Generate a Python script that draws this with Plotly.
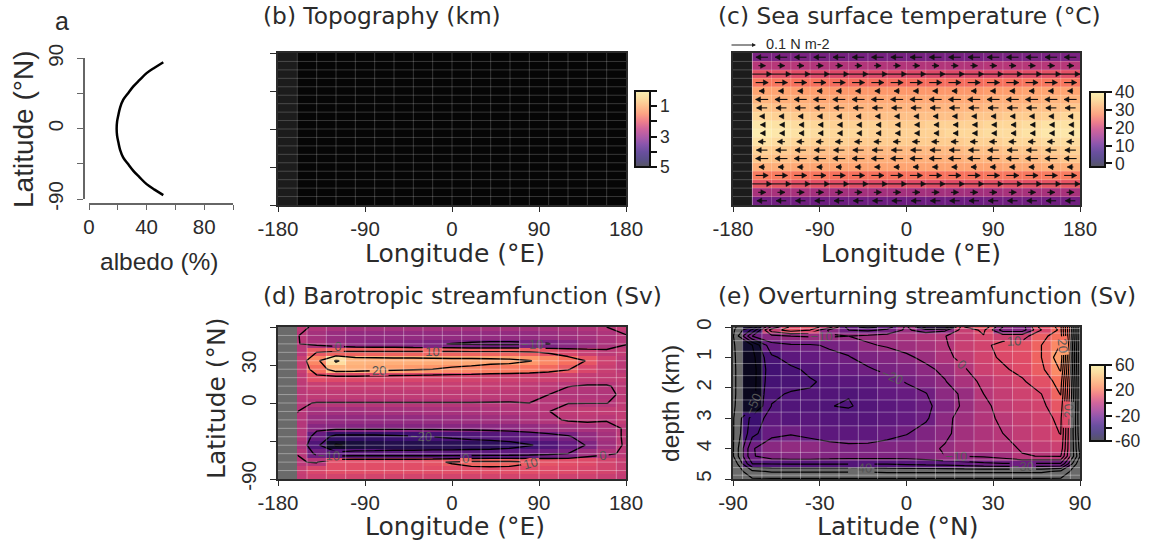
import plotly.graph_objects as go

# ---------- data ----------
albedo_lat = [85, 78, 71, 62, 54, 45, 37, 27, 17.5, 9, 0, -9, -17.5, -27, -37, -45, -54, -62, -71, -78, -85]
albedo_pct = [51.6, 45.5, 40, 35, 30.8, 27, 23.8, 21.6, 20.4, 19.5, 19.2, 19.5, 20.4, 21.6, 23.8, 27, 30.8, 35, 40, 45.5, 51.6]

cell_lon = [-170, -150, -130, -110, -90, -70, -50, -30, -10, 10, 30, 50, 70, 90, 110, 130, 150, 170]
cell_lat = [85, 75, 65, 55, 45, 35, 25, 15, 5, -5, -15, -25, -35, -45, -55, -65, -75, -85]

topo_depth = [[0, 5, 5, 5, 5, 5, 5, 5, 5, 5, 5, 5, 5, 5, 5, 5, 5, 5] for _ in cell_lat]

sst_lon = [-150, -130, -110, -90, -70, -50, -30, -10, 10, 30, 50, 70, 90, 110, 130, 150, 170]
sst = [
    [13, 13, 13, 12.5, 12.5, 12.5, 12.5, 12.5, 12.5, 12.5, 12.5, 12.5, 13, 13, 13, 13, 13],
    [19, 19, 19, 18.5, 18.5, 18.5, 18.5, 18.5, 18.5, 18.5, 18.5, 18.5, 19, 19, 19, 19, 19],
    [24, 24, 23.5, 23, 23, 23, 23, 23, 23, 23, 23, 23, 23, 23.5, 23.5, 24, 24],
    [28, 28, 27.5, 27.5, 27, 27, 27, 27, 27, 27, 27, 27, 27.5, 27.5, 28, 28, 28],
    [32, 32, 31.5, 31.5, 31, 31, 31, 31, 31, 31, 31, 31, 31.5, 31.5, 32, 32, 32],
    [33.5, 33, 33, 32.5, 32.5, 32.5, 32.5, 32.5, 32.5, 32.5, 32.5, 32.5, 33, 33, 33, 33.5, 33.5],
    [35, 34.5, 34, 33.5, 33.5, 33.5, 33.5, 33.5, 33.5, 33.5, 33.5, 33.5, 34, 34, 34.5, 34.5, 35],
    [36.5, 36, 35.5, 35, 35, 34.5, 34.5, 34.5, 34.5, 34.5, 34.5, 35, 35, 35.5, 35.5, 36, 36.5],
    [38, 37.5, 37, 36.5, 36, 36, 36, 35.5, 35.5, 36, 36, 36, 36.5, 36.5, 37, 37.5, 37.5],
    [38.5, 38, 37.5, 37, 36.5, 36.5, 36, 36, 36, 36, 36.5, 36.5, 37, 37, 37.5, 38, 38],
    [37.5, 37, 36.5, 36, 36, 35.5, 35.5, 35.5, 35.5, 35.5, 35.5, 36, 36, 36.5, 36.5, 37, 37],
    [36, 35.5, 35, 34.5, 34.5, 34, 34, 34, 34, 34, 34, 34.5, 34.5, 35, 35, 35.5, 36],
    [35, 34.5, 34, 33.5, 33.5, 33, 33, 33, 33, 33, 33, 33.5, 33.5, 34, 34, 34.5, 35],
    [33, 33, 32.5, 32, 32, 32, 32, 32, 32, 32, 32, 32, 32, 32.5, 32.5, 33, 33],
    [28.5, 28.5, 28, 28, 27.5, 27.5, 27.5, 27.5, 27.5, 27.5, 27.5, 27.5, 28, 28, 28, 28.5, 28.5],
    [24.5, 24.5, 24, 24, 24, 23.5, 23.5, 23.5, 23.5, 23.5, 23.5, 24, 24, 24, 24, 24.5, 24.5],
    [17.5, 17.5, 17.5, 17, 17, 17, 17, 17, 17, 17, 17, 17, 17, 17.5, 17.5, 17.5, 17.5],
    [12, 12, 12, 11.5, 11.5, 11.5, 11.5, 11.5, 11.5, 11.5, 11.5, 11.5, 12, 12, 12, 12, 12],
]
taux_lat = cell_lat
taux = [-0.048, 0.028, 0.077, 0.05, -0.022, -0.05, -0.042, -0.018, -0.012,
        -0.012, -0.03, -0.044, -0.05, -0.024, 0.05, 0.077, 0.03, -0.04]

baro_lon = [-160, -140, -120, -100, -80, -60, -40, -20, 0, 20, 40, 60, 80, 100, 120, 140, 160, 180]
baro_lat = [90, 80, 70, 60, 50, 40, 30, 20, 10, 0, -10, -20, -30, -40, -50, -60, -70, -80, -90]
baro = [
    [1.5, -1, -2, -3, -3, -3, -3, -3, -3, -3, -3, -3, -3, -2.5, -2, -1, 0, 2],
    [0.3, -3, -5, -6, -6, -6, -6, -6, -6, -6, -6, -6, -6, -5, -4, -3, -1.5, -0.2],
    [0.3, -2, -5, -7, -8, -8, -9, -9.5, -10.2, -11, -11.5, -11.5, -11, -10.2, -8, -5, -2, -0.2],
    [0.5, 10, 12, 12, 12, 12, 12, 12, 12, 12, 12, 12, 11, 9, 6, 3, 1, 2],
    [3, 18, 31, 25, 24.5, 24, 24, 23.5, 23, 23, 22.5, 22, 20.3, 18, 14, 9.5, 4, 1],
    [3, 14, 25, 24, 23, 22, 21, 20, 19, 18, 16.5, 16, 15, 13, 10.5, 6, 3, 1],
    [1.5, 8, 7, 7, 6.5, 6, 6, 5.5, 5, 5, 4.5, 4, 4, 4, 3.5, 2, 2, 2],
    [1, 3, 3, 3, 3, 3, 3, 3, 3, 3, 2.5, 2, 1.5, 1, 0.1, -0.3, -0.3, 1],
    [0.6, 1.5, 1.5, 1.5, 1.5, 1.5, 1.5, 1.5, 1.5, 1.5, 1, 0.8, 0.3, 0, -1, -1, -1, 1],
    [0.3, -0.1, -0.1, -0.1, -0.1, -0.1, -0.1, -0.1, -0.1, -0.1, -0.1, -0.1, 0, -0.1, -0.1, -0.1, -0.1, 1.5],
    [0.1, -3, -3.5, -3.5, -3, -3, -3, -2.5, -2.5, -2, -1.5, -1, -0.5, -0.1, 1.5, 2, 2, 2],
    [-0.5, -5, -6, -6, -6, -6, -6, -5.5, -5, -4.5, -4, -3.5, -2, -1, 0.5, 1, 0.3, 2],
    [-0.5, -8, -8.5, -8.5, -8.5, -8.5, -8.5, -8.5, -8, -8, -7.5, -7, -6, -5, -3.5, -2.5, -1.5, 0.5],
    [-0.5, -14, -23, -23, -23, -22, -21, -20, -19, -18, -17, -16, -15, -13, -11, -6, -3, 1],
    [-2, -18, -31, -28, -27, -26, -26, -25, -25, -24, -24, -23, -20.5, -18, -14, -9.5, -4, 1],
    [-0.1, -12, -17, -16, -16, -16, -16, -16, -16, -16, -15.5, -15, -14, -12, -10, -4, -1, 1],
    [0.5, -0.5, 8, 8, 8, 8, 8, 9, 10.5, 12, 12.5, 12, 10.5, 9, 8, 7, 5, 3],
    [3, 6, 8, 8, 8, 8, 8, 8, 8, 8, 8, 8, 8, 7.5, 7, 6, 5, 3],
    [2, 4, 5, 5, 5, 5, 5, 5, 5, 5, 5, 5, 5, 5, 4, 4, 3, 2],
]

moc_lat = [-90, -80, -70, -60, -50, -40, -30, -20, -10, 0, 10, 20, 30, 40, 50, 60, 70, 80, 90]
moc_depth = [0, 0.1, 0.3, 0.6, 1.0, 1.4, 1.8, 2.2, 2.6, 3.0, 3.5, 4.0, 4.25, 4.5, 4.75, 5]
moc = [
    [-62, -50, -8, 12, 15, 5, -25, -35, -25, -8, -35, -40, 10, 18, -10, -15, 15, 22, -69],
    [-62, -38, 5, 15, 10, -12, -20, -22, -18, -8, -16, -12, 5, 12, -15, -15, 10, 22, -69],
    [-61, -20, -13, -10, -9, -9, -10, -8, -6, -4, -2, -0.2, 4, 9.5, 6, 6, 18, 24, -69],
    [-61, -50, -23, -21, -21, -19, -17, -11, -9, -7, -4.5, -1, 5, 8, 13, 14, 20, 30.5, -69],
    [-61, -53, -32, -26, -24, -22, -20.5, -17, -15, -11.5, -8, -2.5, 3, 8, 11, 13, 20, 36, -69],
    [-61, -54, -34, -32, -28, -25, -23, -21, -18, -16, -12, -8, -1, 6, 9, 12, 18, 31, -69],
    [-61, -54, -33, -32, -31, -28, -27, -26, -23, -19.5, -15, -10.5, -4, 2, 6, 9, 14, 24, -69],
    [-61, -54, -31, -29.5, -29, -29, -29.8, -28, -25, -23, -20.5, -12, -9, 0, 4, 7, 10, 20.5, -69],
    [-61, -52, -29.8, -29.5, -29.7, -29.9, -30.3, -29, -27, -25, -22, -16, -8, -2, 3, 5.5, 8, 16, -69],
    [-61, -36, -26, -28, -27, -28, -28.5, -28, -26, -24, -21.5, -12, -7, -1.5, 1, 4, 7, 12, -69],
    [-61, -33, -23, -21, -24, -26, -26, -25.5, -23, -20.5, -16, -12, -6, -2.5, 0, 3, 6, 10.3, -68],
    [-61, -21, -13, -10.5, -11.5, -15, -17, -17, -16, -15, -12.5, -9, -5, -2, -1, 0.3, 3, 6, -64],
    [-61, -21, -15, -14, -14, -15, -16, -16, -16, -16, -14, -10, -9.8, -9, -6, -0.2, 0.1, 0.5, -60],
    [-69, -30, -29.5, -29, -29, -29, -29, -29, -29, -28, -27, -26, -24, -22, -21, -21, -21, -21, -69],
    [-69, -52, -49, -49, -49, -49, -49, -49, -48, -48, -48, -48, -48, -48, -48, -48, -48, -52, -69],
    [-69, -61, -61, -61, -61, -61, -61, -61, -61, -61, -61, -61, -61, -61, -61, -61, -61, -61, -69],
]

lon_ticks = [-180, -90, 0, 90, 180]
lon_text = ["-180", "-90", "0", "90", "180"]
lat_ticks = [-90, -45, 0, 45, 90]
baro_lat_text = ["-90", "", "0", "30", ""]
albedo_lat_text = ["-90", "", "0", "", "90"]
moc_x_text = ["-90", "-30", "0", "30", "90"]
albedo_ticks = [0, 20, 40, 60, 80, 100]
albedo_text = ["0", "", "40", "", "80", ""]
depth_ticks = [0, 1, 2, 3, 4, 5]
depth_text = ["0", "1", "2", "3", "4", "5"]

# ---------- style ----------
W, H = 1155, 546
MONO = "Liberation Sans"
DEJA = "DejaVu Sans"
INK = "#2b2b2b"
MAGMA = [[0, "#000004"], [0.1, "#140e36"], [0.2, "#3b0f70"], [0.3, "#641a80"], [0.4, "#8c2981"],
         [0.5, "#b73779"], [0.6, "#de4968"], [0.7, "#f7705c"], [0.8, "#fe9f6d"], [0.9, "#fecf92"],
         [1, "#fcfdbf"]]
BAR = [[0, "#565660"], [0.1, "#5a4f8a"], [0.2, "#6a4f9f"], [0.3, "#8a55ad"], [0.4, "#b05ca8"],
       [0.5, "#d0659c"], [0.6, "#ee7f8c"], [0.7, "#fca384"], [0.8, "#fdc08f"], [0.9, "#fbdca0"],
       [1, "#f9f0b4"]]


def fx(p):
    return p / W


def fy(p):
    return 1 - p / H


def xax(left, right, **kw):
    base = dict(domain=[fx(left), fx(right)], showgrid=False, zeroline=False, ticks="outside",
                ticklen=5, tickwidth=1, tickcolor=INK, linecolor=INK, linewidth=1.5, showline=True,
                tickfont=dict(family=MONO, size=20.5, color=INK))
    base.update(kw)
    return base


def yax(top, bottom, **kw):
    base = dict(domain=[fy(bottom), fy(top)], showgrid=False, zeroline=False, ticks="outside",
                ticklen=6, tickwidth=1, tickcolor=INK, linecolor=INK, linewidth=1.5, showline=True,
                tickangle=-90, ticklabelstandoff=6, tickfont=dict(family=MONO, size=20.5, color=INK))
    base.update(kw)
    return base


def grid_trace(xs, ys, x_span, y_span, alpha, ax):
    gx, gy = [], []
    for v in xs:
        gx += [v, v, None]
        gy += [y_span[0], y_span[1], None]
    for v in ys:
        gx += [x_span[0], x_span[1], None]
        gy += [v, v, None]
    return go.Scatter(x=gx, y=gy, mode="lines", line=dict(color=f"rgba(255,255,255,{alpha})", width=1),
                      hoverinfo="skip", showlegend=False, xaxis="x" + ax, yaxis="y" + ax)


def bar_trace(ax, x, y, lo, hi, top, left, height, vals, text):
    return go.Scatter(
        x=[x], y=[y], mode="markers", hoverinfo="skip", showlegend=False, xaxis="x" + ax, yaxis="y" + ax,
        marker=dict(size=1, opacity=0, color=[lo], cmin=lo, cmax=hi, colorscale=BAR, showscale=True,
                    colorbar=dict(x=fx(left), xanchor="left", y=fy(top), yanchor="top", thickness=15,
                                  lenmode="pixels", len=height, ypad=0, xpad=0, outlinewidth=2,
                                  outlinecolor="#111", ticks="outside", ticklen=6, tickwidth=1.5,
                                  tickcolor="#111", tickvals=vals, ticktext=text,
                                  tickfont=dict(family=MONO, size=17.5, color=INK))))


fig = go.Figure()

# (a) albedo
fig.add_trace(go.Scatter(x=albedo_pct, y=albedo_lat, mode="lines", line=dict(color="black", width=2.5, shape="spline"),
                         showlegend=False, xaxis="x", yaxis="y"))

# (b) topography
fig.add_trace(go.Heatmap(x=cell_lon, y=cell_lat, z=topo_depth, zmin=0, zmax=5, showscale=False,
                         colorscale=[[0, "#1c1c1c"], [0.5, "#1c1c1c"], [0.5, "#060606"], [1, "#060606"]],
                         xaxis="x2", yaxis="y2"))
fig.add_trace(grid_trace(list(range(-160, 180, 20)), list(range(-80, 90, 10)), [-180, 180], [-90, 90], 0.2, "2"))
fig.add_trace(bar_trace("2", -180, -90, -5, 0, 91, 635, 76, [0, -1, -2, -3, -4, -5], ["", "1", "", "3", "", "5"]))

# (c) SST + wind stress
fig.add_trace(go.Heatmap(x=sst_lon, y=cell_lat, z=sst, zmin=-2, zmax=40, colorscale=MAGMA, showscale=False,
                         xaxis="x3", yaxis="y3"))
fig.add_trace(go.Heatmap(x=[-180, -160], y=[-90, 90], z=[[1]], colorscale=[[0, "#1c1c1c"], [1, "#1c1c1c"]],
                         showscale=False, xaxis="x3", yaxis="y3"))
fig.add_trace(grid_trace(list(range(-160, 180, 20)), list(range(-80, 90, 10)), [-180, 180], [-90, 90], 0.22, "3"))
KEY_LON = 26.0    # degrees of longitude drawn for 0.1 N m-2
HEAD_LON = 5.0    # arrow-head size, degrees of longitude
HEAD_LAT = 3.2    # arrow-head half width, degrees of latitude
shaft_x, shaft_y, head_x, head_y = [], [], [], []
for la, u in zip(taux_lat, taux):
    half = u / 0.1 * KEY_LON / 2
    back = HEAD_LON if u > 0 else -HEAD_LON
    for lo in sst_lon:
        tip = lo + half
        shaft_x += [lo - half, tip, None]
        shaft_y += [la, la, None]
        head_x += [tip - back, tip, tip - back, tip - back, None]
        head_y += [la + HEAD_LAT, la, la - HEAD_LAT, la + HEAD_LAT, None]
fig.add_trace(go.Scatter(x=shaft_x, y=shaft_y, mode="lines", line=dict(color="#111", width=1.1),
                         hoverinfo="skip", showlegend=False, xaxis="x3", yaxis="y3"))
fig.add_trace(go.Scatter(x=head_x, y=head_y, mode="lines", line=dict(color="#111", width=0.5),
                         fill="toself", fillcolor="#111",
                         hoverinfo="skip", showlegend=False, xaxis="x3", yaxis="y3"))
fig.add_trace(bar_trace("3", -180, -90, -2, 40, 92, 1090, 75, [0, 10, 20, 30, 40], ["0", "10", "20", "30", "40"]))

# (d) barotropic streamfunction
fig.add_trace(go.Heatmap(x=baro_lon, y=baro_lat, z=baro, zmin=-36, zmax=36, colorscale=MAGMA, showscale=False,
                         xaxis="x4", yaxis="y4"))
fig.add_trace(go.Heatmap(x=[-180, -160], y=[-90, 90], z=[[1]], colorscale=[[0, "#6a6a6a"], [1, "#6a6a6a"]],
                         showscale=False, xaxis="x4", yaxis="y4"))
fig.add_trace(grid_trace(list(range(-150, 180, 20)), list(range(-80, 90, 10)), [-180, 180], [-90, 90], 0.35, "4"))
fig.add_trace(go.Contour(x=baro_lon, y=baro_lat, z=baro, autocontour=False, showscale=False,
                         contours=dict(coloring="none", start=-30, end=30, size=10, showlabels=True,
                                       labelfont=dict(family=MONO, size=13, color="#555")),
                         line=dict(color="black", width=1.4, smoothing=0), xaxis="x4", yaxis="y4"))

# (e) overturning streamfunction
moc_heat = [[None if (abs(la) == 90 or dp > 4.6) else v for la, v in zip(moc_lat, row)]
            for dp, row in zip(moc_depth, moc)]
moc_edges = [(a + b) / 2 for a, b in zip(moc_depth[:-1], moc_depth[1:])]
fig.add_trace(go.Heatmap(x=[-90, 90], y=[0, 5], z=[[1, 1], [1, 1]], colorscale=[[0, "#6a6a6a"], [1, "#6a6a6a"]],
                         showscale=False, xaxis="x5", yaxis="y5"))
fig.add_trace(go.Heatmap(x=moc_lat, y=moc_depth, z=moc_heat, zmin=-60, zmax=60, colorscale=MAGMA, showscale=False,
                         hoverongaps=False, xaxis="x5", yaxis="y5"))
fig.add_trace(grid_trace(list(range(-85, 90, 10)), moc_edges, [-90, 90], [0, 5], 0.35, "5"))
fig.add_trace(go.Contour(x=moc_lat, y=moc_depth, z=moc, autocontour=False, showscale=False,
                         contours=dict(coloring="none", start=-60, end=30, size=10, showlabels=True,
                                       labelfont=dict(family=MONO, size=13, color="#555")),
                         line=dict(color="black", width=1.2, smoothing=0), xaxis="x5", yaxis="y5"))
fig.add_trace(bar_trace("5", -90, 0, -60, 60, 365, 1090, 76, [-60, -40, -20, 0, 20, 40, 60],
                        ["-60", "", "-20", "", "20", "", "60"]))


def label(text, x, y, size, family=DEJA, angle=0, anchor="center"):
    fig.add_annotation(text=text, x=fx(x), y=fy(y), xref="paper", yref="paper", showarrow=False,
                       font=dict(family=family, size=size, color=INK), textangle=angle,
                       xanchor=anchor, yanchor="middle", borderpad=0, yshift=0)


label("a", 62, 21, 25, MONO)
label("(b) Topography (km)", 262, 15, 23.3, DEJA, anchor="left")
label("(c) Sea surface temperature (°C)", 717, 15, 23.3, DEJA, anchor="left")
label("(d) Barotropic streamfunction (Sv)", 262, 295, 23.3, DEJA, anchor="left")
label("(e) Overturning streamfunction (Sv)", 717, 295, 23.3, DEJA, anchor="left")
label("Longitude (°E)", 455, 253, 25)
label("Longitude (°E)", 911, 253, 25)
label("Longitude (°E)", 455, 526, 25)
label("Latitude (°N)", 898, 526, 25, DEJA)
label("albedo (%)", 159, 261, 24.5, MONO)
label("Latitude (°N)", 23, 129, 28, MONO, angle=-90)
label("Latitude (°N)", 216, 398, 25, DEJA, angle=-90)
label("depth (km)", 670, 404, 24.5, MONO, angle=-90)
label("0.1 N m-2", 765, 44, 14.5, MONO, anchor="left")
fig.add_annotation(x=fx(756), y=fy(45), ax=-26, ay=0, xref="paper", yref="paper", text="", showarrow=True,
                   arrowhead=2, arrowsize=0.8, arrowwidth=1, arrowcolor="#222")

lay = dict(width=W, height=H, autosize=False, margin=dict(l=0, r=0, t=0, b=0, autoexpand=False),
           paper_bgcolor="white", plot_bgcolor="white", showlegend=False)
lay["xaxis"] = xax(89, 233, range=[0, 100], tickvals=albedo_ticks, ticktext=albedo_text, anchor="free",
                   position=fy(204), linecolor="#666", tickcolor="#666")
lay["yaxis"] = yax(58.3, 199, range=[-90, 90], tickvals=lat_ticks, ticktext=albedo_lat_text, anchor="free",
                   position=fx(84), linecolor="#666", tickcolor="#666")
lay["xaxis2"] = xax(278, 626, range=[-180, 180], tickvals=lon_ticks, ticktext=lon_text, anchor="y2", mirror=True)
lay["yaxis2"] = yax(53, 205, range=[-90, 90], tickvals=lat_ticks, ticktext=["", "", "", "", ""], anchor="x2", mirror=True)
lay["xaxis3"] = xax(733, 1080, range=[-180, 180], tickvals=lon_ticks, ticktext=lon_text, anchor="y3", mirror=True)
lay["yaxis3"] = yax(53, 205, range=[-90, 90], tickvals=[], anchor="x3", mirror=True, ticks="")
lay["xaxis4"] = xax(278, 626, range=[-180, 180], tickvals=lon_ticks, ticktext=lon_text, anchor="y4", mirror=True)
lay["yaxis4"] = yax(327, 479, range=[-90, 90], tickvals=lat_ticks, ticktext=baro_lat_text, anchor="x4", mirror=True)
lay["xaxis5"] = xax(733, 1080, range=[-90, 90], tickvals=[-90, -45, 0, 45, 90], ticktext=moc_x_text, anchor="y5", mirror=True)
lay["yaxis5"] = yax(327, 479, range=[5, 0], tickvals=depth_ticks, ticktext=depth_text, anchor="x5", mirror=True)
fig.update_layout(**lay)

fig.write_html("out.html", config={"displayModeBar": False}, post_script="document.body.style.margin='0';")
